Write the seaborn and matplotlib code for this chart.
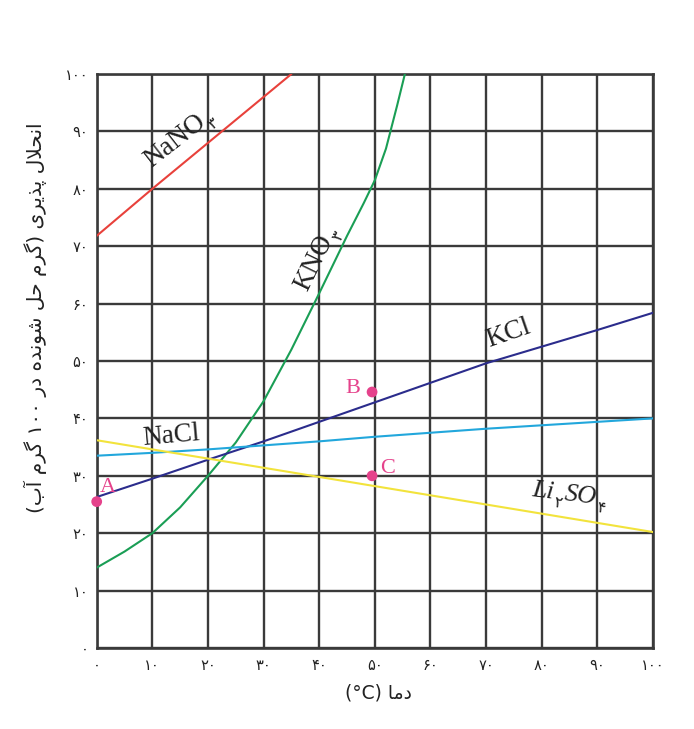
import re
import numpy as np
import pandas as pd
import matplotlib
matplotlib.use("Agg")
import matplotlib.pyplot as plt
import seaborn as sns

# ---------------- data ----------------
nano3_t = [0, 10, 35]
nano3_s = [71.8, 80, 100]

kno3_t = [0, 5, 10, 15, 20, 25, 30, 35, 40, 45, 48, 50, 52, 54, 55.4]
kno3_s = [14, 16.8, 20, 24.5, 30, 35.8, 43, 52, 61.8, 71.8, 77.5, 81.5, 87, 94.5, 100]

kcl_t = [0, 10, 20, 30, 40, 50, 60, 70, 80, 90, 100]
kcl_s = [26.3, 29.5, 32.8, 36.0, 39.4, 42.8, 46.2, 49.6, 52.5, 55.4, 58.4]

nacl_t = [0, 10, 20, 30, 40, 50, 60, 70, 80, 90, 100]
nacl_s = [33.5, 34.0, 34.6, 35.3, 36.0, 36.8, 37.5, 38.2, 38.8, 39.4, 40.0]

li2so4_t = [0, 50, 100]
li2so4_s = [36.2, 28.2, 20.2]

point_names = ["A", "B", "C"]
point_t = [0, 49.5, 49.5]
point_s = [25.5, 44.6, 30.0]

x_ticks = [0, 10, 20, 30, 40, 50, 60, 70, 80, 90, 100]
y_ticks = [0, 10, 20, 30, 40, 50, 60, 70, 80, 90, 100]

y_title = "انحلال پذیری (گرم حل شونده در ۱۰۰ گرم آب)"
x_title = "دما (°C)"

# ---------------- minimal Persian shaping / visual ordering ----------------
FORMS = {
    'ا': ('\uFE8D', '\uFE8E'), 'آ': ('\uFE81', '\uFE82'),
    'ب': ('\uFE8F', '\uFE90', '\uFE91', '\uFE92'),
    'پ': ('\uFB56', '\uFB57', '\uFB58', '\uFB59'),
    'ح': ('\uFEA1', '\uFEA2', '\uFEA3', '\uFEA4'),
    'د': ('\uFEA9', '\uFEAA'), 'ذ': ('\uFEAB', '\uFEAC'),
    'ر': ('\uFEAD', '\uFEAE'),
    'ش': ('\uFEB5', '\uFEB6', '\uFEB7', '\uFEB8'),
    'گ': ('\uFB92', '\uFB93', '\uFB94', '\uFB95'),
    'ل': ('\uFEDD', '\uFEDE', '\uFEDF', '\uFEE0'),
    'م': ('\uFEE1', '\uFEE2', '\uFEE3', '\uFEE4'),
    'ن': ('\uFEE5', '\uFEE6', '\uFEE7', '\uFEE8'),
    'ه': ('\uFEE9', '\uFEEA', '\uFEEB', '\uFEEC'),
    'و': ('\uFEED', '\uFEEE'),
    'ی': ('\uFBFC', '\uFBFD', '\uFBFE', '\uFBFF'),
    'LAا': ('\uFEFB', '\uFEFC'), 'LAآ': ('\uFEF5', '\uFEF6'),
}


def shape_word(w):
    units, i = [], 0
    while i < len(w):
        if w[i] == 'ل' and i + 1 < len(w) and w[i + 1] in 'اآ':
            units.append('LA' + w[i + 1]); i += 2
        else:
            units.append(w[i]); i += 1
    out = []
    for k, u in enumerate(units):
        f = FORMS.get(u)
        if f is None:
            out.append(u); continue
        pj = k > 0 and len(FORMS.get(units[k - 1], ())) == 4
        nj = k + 1 < len(units) and len(f) == 4
        if pj and nj:
            out.append(f[3])
        elif pj:
            out.append(f[1])
        elif nj:
            out.append(f[2])
        else:
            out.append(f[0])
    return ''.join(out)


def visual(s):
    toks = re.findall(r'[\u06F0-\u06F9]+|[\u0621-\u06EF]+|\s+|[()]|[^\s()\u0600-\u06FF]+', s)
    res = []
    for t in reversed(toks):
        if t == '(':
            res.append(')')
        elif t == ')':
            res.append('(')
        elif re.match(r'[\u0621-\u06EF]', t):
            res.append(shape_word(t)[::-1])
        else:
            res.append(t)
    return ''.join(res)


def fa(n):
    return str(n).translate(str.maketrans('0123456789', '۰۱۲۳۴۵۶۷۸۹'))


# ---------------- figure ----------------
sns.set_theme(style="white")
plt.rcParams['font.family'] = ['DejaVu Sans']

fig = plt.figure(figsize=(6.94, 7.29), dpi=100)
W, H = 694, 729
ax = fig.add_axes([96.7 / W, 1 - 648 / H, (653 - 96.7) / W, (648 - 74) / H])

rows = []
for name, ts, ss in [("NaNO3", nano3_t, nano3_s), ("KNO3", kno3_t, kno3_s),
                     ("KCl", kcl_t, kcl_s), ("NaCl", nacl_t, nacl_s),
                     ("Li2SO4", li2so4_t, li2so4_s)]:
    for t, s in zip(ts, ss):
        rows.append({"salt": name, "t": t, "s": s})
df = pd.DataFrame(rows)

palette = {"NaNO3": "#e8413b", "KNO3": "#1a9e55", "KCl": "#2b2c8c",
           "NaCl": "#22a7dc", "Li2SO4": "#f2e33c"}
sns.lineplot(data=df, x="t", y="s", hue="salt", palette=palette, legend=False,
             linewidth=1.5, ax=ax, zorder=3, sort=True, estimator=None)

pts = pd.DataFrame({"name": point_names, "t": point_t, "s": point_s})
pink = "#e5428b"
sns.scatterplot(data=pts, x="t", y="s", color=pink, s=60, edgecolor="none",
                ax=ax, zorder=5, clip_on=False)

ax.set_xlim(0, 100)
ax.set_ylim(0, 100)
ax.set_xticks(x_ticks)
ax.set_yticks(y_ticks)
ax.set_xticklabels([fa(v) for v in x_ticks], fontsize=10.5, color="#222")
ax.set_yticklabels([fa(v) for v in y_ticks], fontsize=10.5, color="#222")
ax.tick_params(axis="both", length=0)
ax.tick_params(axis="x", pad=7)
ax.tick_params(axis="y", pad=6)
ax.grid(True, color="#3a3a3a", linewidth=1.7, zorder=1)
ax.set_axisbelow(True)
for sp in ax.spines.values():
    sp.set_visible(True)
    sp.set_color("#3a3a3a")
    sp.set_linewidth(1.9)
ax.set_xlabel("")
ax.set_ylabel("")

fig.text(378 / W, 1 - 693 / H, visual(x_title), ha="center", va="center",
         fontsize=13.5, color="#222", family=["DejaVu Sans"])
fig.text(35 / W, 1 - 318 / H, visual(y_title), ha="center", va="center",
         rotation=90, fontsize=14.5, color="#222", family=["DejaVu Sans"])

# ---------------- curve labels with subscripts ----------------
renderer = fig.canvas.get_renderer()


def chem(x, y, parts, angle, size, style="normal"):
    a = np.deg2rad(angle)
    off = 0.0
    for txt, sub in parts:
        fs = size * 0.6 if sub else size
        fam = ["DejaVu Sans"] if sub else ["Liberation Serif"]
        st = "normal" if sub else style
        drop = size * 0.28 if sub else 0.0
        off_pt = off * 72.0 / fig.dpi
        dx = off_pt * np.cos(a) + drop * np.sin(a)
        dy = off_pt * np.sin(a) - drop * np.cos(a)
        ax.annotate(txt, xy=(x, y), xytext=(dx, dy), textcoords="offset points",
                    rotation=angle, rotation_mode="anchor", ha="left", va="baseline",
                    fontsize=fs, family=fam, style=st, color="#222", zorder=6)
        tmp = fig.text(0, 0, txt, fontsize=fs, family=fam, style=st)
        off += tmp.get_window_extent(renderer).width + 1.0
        tmp.remove()


chem(9.8, 83.6, [("NaNO", False), (fa(3), True)], 38, 19.5)
chem(37.8, 62.0, [("KNO", False), (fa(3), True)], 64, 19.5)
chem(70.6, 52.4, [("KCl", False)], 19, 19.5)
chem(8.3, 35.4, [("NaCl", False)], 5, 19.5)
chem(78.2, 26.4, [("Li", False), (fa(2), True), ("SO", False), (fa(4), True)], -7, 19,
     style="italic")

# point labels
ax.text(0.6, 27.2, "A", color=pink, fontsize=16, family=["Liberation Serif"],
        ha="left", va="baseline", zorder=6)
ax.text(47.3, 44.4, "B", color=pink, fontsize=16, family=["Liberation Serif"],
        ha="right", va="baseline", zorder=6)
ax.text(51.0, 30.5, "C", color=pink, fontsize=16, family=["Liberation Serif"],
        ha="left", va="baseline", zorder=6)

fig.savefig("out.png", dpi=100, facecolor="white")
